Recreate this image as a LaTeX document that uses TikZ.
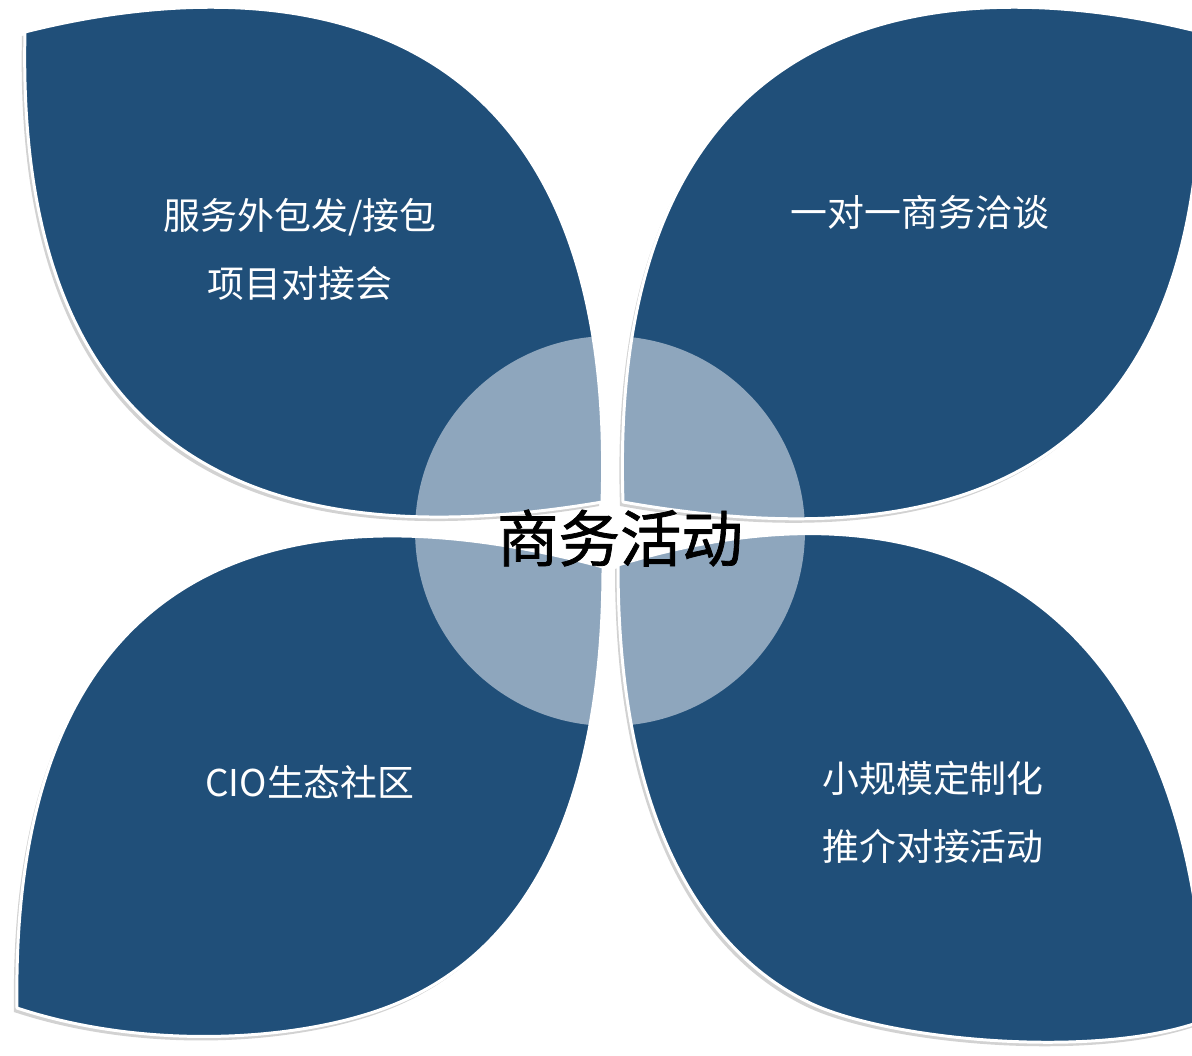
\documentclass[tikz,border=0pt]{standalone}
\usepackage{fontspec}
\newfontfamily\cjk{Noto Sans CJK SC}
\newfontfamily\cjkhub[FakeBold=1.2]{Noto Sans CJK SC}
\definecolor{leafblue}{RGB}{32,79,121}
\definecolor{hubfill}{RGB}{142,166,189}
\definecolor{shadowgrey}{RGB}{210,210,210}
\newcommand\leafTL{(25,32) .. controls (230,-20) and (620,-40) .. (602,502) .. controls (250,562) and (15,450) .. (25,32) -- cycle}
\newcommand\leafTR{(1200,32) .. controls (995,-20) and (605,-40) .. (623,502) .. controls (990,567) and (1215,450) .. (1200,32) -- cycle}
\newcommand\leafBL{(603,567) .. controls (280,480) and (10,560) .. (17,1008) .. controls (150,1052) and (310,1041) .. (400,1002) .. controls (520,950) and (603,820) .. (603,567) -- cycle}
\newcommand\leafBR{(618,565) .. controls (618,830) and (710,955) .. (810,1003) .. controls (890,1041) and (1100,1060) .. (1205,1020) .. controls (1195,620) and (960,460) .. (618,565) -- cycle}
\tikzset{
  leafshadow/.style={fill=shadowgrey, shift={(-3,4)}},
  leaffill/.style={fill=leafblue},
  leafedge/.style={draw=white, line width=1.7pt, line join=round},
  leaflabel/.style={text=white, align=center, font=\cjk\fontsize{21}{38.7}\selectfont, inner sep=0pt},
  hublabel/.style={text=black, font=\cjkhub\fontsize{35}{40}\selectfont, inner sep=0pt}
}
\begin{document}
\begin{tikzpicture}[x=0.02cm, y=-0.02cm]
\useasboundingbox (0,0) rectangle (1192,1055);
\clip (0,0) rectangle (1192,1055);
\fill[white] (0,0) rectangle (1192,1055);
% shadows
\fill[leafshadow] \leafTL;
\fill[leafshadow] \leafTR;
\fill[leafshadow] \leafBL;
\fill[leafshadow] \leafBR;
% leaves
\fill[leaffill] \leafTL;
\fill[leaffill] \leafTR;
\fill[leaffill] \leafBL;
\fill[leaffill] \leafBR;
% hub circle, visible only on the leaves
\coordinate (hubc) at (610,531);
\begin{scope}\clip \leafTL; \fill[hubfill] (hubc) circle[radius=3.9cm]; \end{scope}
\begin{scope}\clip \leafTR; \fill[hubfill] (hubc) circle[radius=3.9cm]; \end{scope}
\begin{scope}\clip \leafBL; \fill[hubfill] (hubc) circle[radius=3.9cm]; \end{scope}
\begin{scope}\clip \leafBR; \fill[hubfill] (hubc) circle[radius=3.9cm]; \end{scope}
% white edges
\draw[leafedge] \leafTL;
\draw[leafedge] \leafTR;
\draw[leafedge] \leafBL;
\draw[leafedge] \leafBR;
% labels
\node[leaflabel] (tl) at (300,249) {服务外包发/接包\\项目对接会};
\node[leaflabel] (tr) at (920,212) {一对一商务洽谈};
\node[leaflabel] (bl) at (310,782) {CIO生态社区};
\node[leaflabel] (br) at (933,812) {小规模定制化\\推介对接活动};
\node[hublabel] (hub) at (620,538) {商务活动};
\end{tikzpicture}
\end{document}
